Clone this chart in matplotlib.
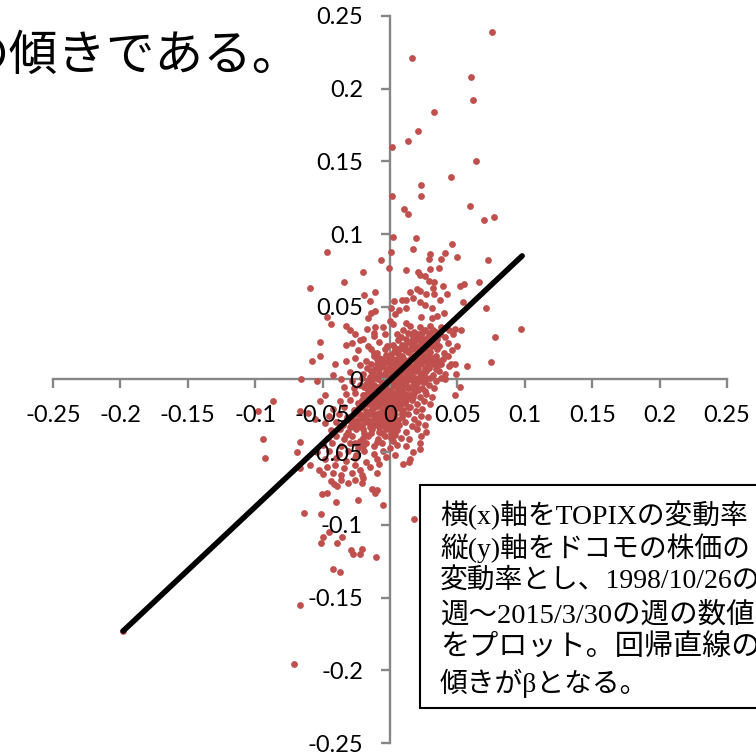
import matplotlib
matplotlib.use("Agg")
import matplotlib.pyplot as plt
import numpy as np
from matplotlib.patches import Rectangle

# Outlying points.
outer_points = [
    (0.0757, 0.239), (0.0166, 0.221), (0.0603, 0.208), (0.0618, 0.192), (0.0329, 0.184),
    (0.0211, 0.171), (0.0132, 0.164), (0.0015, 0.160), (0.0635, 0.150), (0.0450, 0.139),
    (0.0227, 0.134), (0.0230, 0.126), (0.0015, 0.126), (0.0103, 0.117), (0.0134, 0.114),
    (0.0590, 0.119), (0.0700, 0.110), (0.0770, 0.112), (0.0025, 0.098), (0.0190, 0.097),
    (0.0170, 0.090), (-0.0470, 0.088), (0.0010, 0.088), (0.0460, 0.093), (0.0300, 0.086),
    (0.0290, 0.083), (0.0410, 0.087), (0.0380, 0.083), (0.0500, 0.084), (0.0730, 0.082),
    (-0.0070, 0.082), (-0.0010, 0.077), (-0.0200, 0.074), (0.0120, 0.075), (0.0210, 0.074),
    (0.0220, 0.072), (0.0260, 0.071), (0.0300, 0.076), (0.0360, 0.077), (0.0290, 0.068),
    (0.0330, 0.067), (-0.0340, 0.067), (-0.0590, 0.063), (0.0390, 0.064), (0.0550, 0.066),
    (0.0520, 0.064), (0.0660, 0.067), (0.0200, 0.062), (0.0220, 0.061), (0.0150, 0.060),
    (0.0320, 0.063), (0.0270, 0.059), (0.0330, 0.059), (0.0420, 0.059), (-0.0190, 0.058),
    (-0.0110, 0.060), (0.0370, 0.055), (0.0030, 0.054), (0.0090, 0.055), (0.0120, 0.055),
    (0.0170, 0.056), (-0.0150, 0.054), (0.0540, 0.053), (0.0220, 0.053), (0.0260, 0.051),
    (0.0310, 0.049), (0.0710, 0.049), (-0.0110, 0.047), (-0.0140, 0.046), (0.0005, 0.049),
    (0.0070, 0.048), (0.0120, 0.049), (0.0040, 0.045), (0.0400, 0.046), (0.0350, 0.044),
    (0.0310, 0.042), (0.0230, 0.043), (-0.0470, 0.043), (-0.0160, 0.042), (-0.0440, 0.038),
    (0.0000, 0.040), (0.0020, 0.038), (0.0120, 0.039), (-0.0330, 0.037), (-0.0110, 0.036),
    (-0.0170, 0.035), (-0.0300, 0.034), (0.0970, 0.035), (0.0530, 0.034), (0.0480, 0.035),
    (0.0780, 0.029), (0.0750, 0.012), (-0.0520, 0.026), (-0.0260, 0.031), (-0.0040, 0.031),
    (-0.0120, 0.032), (-0.0520, 0.016), (-0.0580, 0.013), (-0.0410, 0.011), (-0.0330, 0.024),
    (-0.0220, 0.027), (-0.0330, 0.013), (0.0570, 0.009), (0.0450, 0.011), (0.0480, 0.011),
    (0.0490, 0.004), (-0.0660, 0.000), (-0.0540, -0.001), (-0.0420, 0.003), (0.0520, -0.005),
    (0.0480, -0.011), (0.0410, 0.000), (-0.0870, -0.015), (-0.0980, -0.022), (-0.0940, -0.041),
    (-0.0930, -0.054), (-0.0670, -0.043), (-0.0690, -0.050), (-0.0520, -0.015), (-0.0480, -0.011),
    (-0.0670, -0.022), (-0.0610, -0.023), (-0.0560, -0.027), (-0.0590, -0.059), (-0.0530, -0.062),
    (-0.0670, -0.061), (-0.0640, -0.092), (-0.0510, -0.0925), (0.0180, -0.096), (-0.0455, -0.105),
    (-0.0500, -0.108), (-0.0510, -0.1125), (-0.0356, -0.1085), (-0.0390, -0.1127), (-0.0290, -0.117),
    (-0.0274, -0.120), (-0.0210, -0.1165), (-0.0220, -0.120), (-0.0104, -0.122), (-0.0420, -0.130),
    (-0.0370, -0.1325), (-0.0670, -0.155), (-0.0715, -0.196), (-0.0504, -0.079), (-0.0467, -0.078),
    (-0.0400, -0.0845), (-0.0237, -0.083), (-0.0050, -0.0865), (-0.0415, -0.072), (-0.0390, -0.073),
    (-0.0210, -0.071), (-0.0134, -0.075), (-0.0098, -0.076), (-0.0110, -0.078), (-0.1980, -0.173),
]

# The middle of the cloud overlaps too much to separate, so these follow its shape.
dense_points = [
    (-0.005, 0.036), (0.010, 0.034), (0.015, 0.037), (0.018, 0.033), (0.022, 0.036), (0.026, 0.034),
    (0.030, 0.037), (0.034, 0.033), (0.038, 0.036), (0.044, 0.034), (-0.012, 0.030), (-0.020, 0.028),
    (0.005, 0.031), (0.008, 0.029), (0.013, 0.032), (0.017, 0.029), (0.021, 0.031), (0.025, 0.028),
    (0.029, 0.032), (0.033, 0.029), (0.037, 0.031), (0.041, 0.029), (0.047, 0.031), (-0.028, 0.025),
    (-0.016, 0.023), (-0.008, 0.026), (0.002, 0.024), (0.006, 0.027), (0.011, 0.024), (0.015, 0.026),
    (0.019, 0.023), (0.023, 0.026), (0.028, 0.024), (0.032, 0.027), (0.036, 0.023), (0.043, 0.025),
    (0.050, 0.023), (-0.024, 0.020), (-0.014, 0.021), (-0.010, 0.018), (-0.004, 0.021), (0.003, 0.019),
    (0.008, 0.022), (0.013, 0.019), (0.017, 0.021), (0.021, 0.018), (0.027, 0.021), (0.030, 0.019),
    (0.035, 0.021), (0.040, 0.018), (0.046, 0.020), (-0.026, 0.015), (-0.018, 0.013), (-0.012, 0.016),
    (-0.006, 0.014), (0.000, 0.017), (0.005, 0.014), (0.009, 0.016), (0.012, 0.013), (0.016, 0.016),
    (0.020, 0.014), (0.025, 0.016), (0.029, 0.013), (0.034, 0.016), (0.039, 0.014), (0.043, 0.016),
    (-0.022, 0.010), (-0.017, 0.008), (-0.010, 0.011), (-0.005, 0.009), (-0.001, 0.012), (0.003, 0.009),
    (0.006, 0.011), (0.010, 0.008), (0.014, 0.011), (0.018, 0.009), (0.022, 0.011), (0.026, 0.008),
    (0.031, 0.011), (0.035, 0.009), (0.038, 0.011), (0.044, 0.009), (-0.030, 0.005), (-0.020, 0.004),
    (-0.014, 0.006), (-0.008, 0.004), (-0.003, 0.006), (0.000, 0.003), (0.004, 0.006), (0.007, 0.004),
    (0.011, 0.006), (0.015, 0.003), (0.019, 0.006), (0.023, 0.004), (0.027, 0.006), (0.032, 0.003),
    (0.036, 0.006), (0.041, 0.004), (-0.036, 0.000), (-0.028, -0.001), (-0.021, 0.001), (-0.016, -0.001),
    (-0.012, 0.001), (-0.006, -0.002), (-0.002, 0.001), (0.002, -0.001), (0.005, 0.001), (0.008, -0.002),
    (0.012, 0.001), (0.017, -0.001), (0.021, 0.001), (0.025, -0.002), (0.030, 0.001), (0.034, -0.001),
    (0.038, 0.001), (-0.034, -0.005), (-0.027, -0.006), (-0.022, -0.004), (-0.017, -0.006), (-0.012, -0.004),
    (-0.008, -0.007), (-0.004, -0.004), (0.000, -0.006), (0.003, -0.004), (0.006, -0.007), (0.010, -0.004),
    (0.014, -0.006), (0.019, -0.004), (0.024, -0.006), (0.029, -0.004), (0.033, -0.006), (-0.033, -0.010),
    (-0.026, -0.009), (-0.020, -0.011), (-0.015, -0.009), (-0.010, -0.012), (-0.005, -0.009), (-0.001, -0.011),
    (0.002, -0.009), (0.005, -0.012), (0.009, -0.009), (0.013, -0.011), (0.018, -0.009), (0.022, -0.012),
    (0.027, -0.010), (0.031, -0.012), (-0.037, -0.015), (-0.030, -0.014), (-0.024, -0.016), (-0.018, -0.014),
    (-0.013, -0.017), (-0.008, -0.014), (-0.003, -0.016), (0.000, -0.014), (0.003, -0.017), (0.007, -0.014),
    (0.011, -0.016), (0.016, -0.014), (0.020, -0.017), (0.025, -0.015), (0.030, -0.017), (-0.042, -0.020),
    (-0.034, -0.019), (-0.027, -0.021), (-0.021, -0.019), (-0.015, -0.022), (-0.011, -0.019), (-0.005, -0.021),
    (-0.001, -0.019), (0.002, -0.022), (0.006, -0.019), (0.010, -0.021), (0.015, -0.019), (0.019, -0.022),
    (0.024, -0.020), (-0.045, -0.025), (-0.038, -0.024), (-0.032, -0.026), (-0.026, -0.024), (-0.020, -0.027),
    (-0.014, -0.024), (-0.009, -0.026), (-0.004, -0.024), (0.000, -0.027), (0.004, -0.024), (0.009, -0.026),
    (0.013, -0.024), (0.018, -0.027), (0.023, -0.025), (0.028, -0.026), (-0.048, -0.030), (-0.040, -0.029),
    (-0.035, -0.031), (-0.029, -0.029), (-0.023, -0.032), (-0.017, -0.029), (-0.012, -0.031), (-0.007, -0.029),
    (-0.002, -0.032), (0.002, -0.029), (0.007, -0.031), (0.011, -0.029), (0.016, -0.032), (0.021, -0.030),
    (0.026, -0.031), (-0.044, -0.035), (-0.037, -0.034), (-0.031, -0.036), (-0.025, -0.034), (-0.019, -0.037),
    (-0.013, -0.034), (-0.008, -0.036), (-0.003, -0.034), (0.001, -0.037), (0.005, -0.035), (0.012, -0.036),
    (0.020, -0.034), (0.027, -0.036), (-0.046, -0.040), (-0.040, -0.039), (-0.034, -0.041), (-0.028, -0.039),
    (-0.022, -0.042), (-0.016, -0.039), (-0.009, -0.041), (-0.004, -0.039), (0.002, -0.042), (0.008, -0.040),
    (0.014, -0.041), (0.023, -0.039), (-0.050, -0.045), (-0.043, -0.044), (-0.036, -0.046), (-0.030, -0.044),
    (-0.024, -0.047), (-0.018, -0.044), (-0.012, -0.046), (-0.006, -0.044), (0.000, -0.047), (0.005, -0.045),
    (0.012, -0.046), (0.022, -0.044), (-0.054, -0.050), (-0.045, -0.049), (-0.038, -0.051), (-0.031, -0.049),
    (-0.025, -0.052), (-0.019, -0.049), (-0.012, -0.051), (-0.005, -0.049), (0.004, -0.052), (0.017, -0.050),
    (0.022, -0.048), (-0.048, -0.055), (-0.040, -0.054), (-0.033, -0.056), (-0.026, -0.054), (-0.018, -0.057),
    (-0.010, -0.055), (-0.003, -0.053), (0.015, -0.055), (-0.047, -0.060), (-0.041, -0.059), (-0.034, -0.061),
    (-0.026, -0.059), (-0.022, -0.062), (-0.015, -0.060), (-0.008, -0.058), (0.010, -0.058), (0.014, -0.057),
    (-0.050, -0.065), (-0.042, -0.064), (-0.036, -0.066), (-0.028, -0.064), (-0.021, -0.066), (-0.010, -0.064),
    (-0.044, -0.070), (-0.036, -0.069), (-0.031, -0.071), (-0.026, -0.069), (-0.020, -0.068),
]

# Extra points for the solid core around the origin and along the upper right arm.
core_points = [
    (-0.012, 0.018), (-0.008, 0.015), (-0.003, 0.017), (0.002, 0.014), (0.006, 0.018), (0.010, 0.015),
    (0.014, 0.020), (0.018, 0.016), (0.022, 0.022), (0.024, 0.018), (0.028, 0.017), (0.031, 0.023),
    (0.012, 0.028), (0.016, 0.031), (0.020, 0.028), (0.024, 0.032), (0.028, 0.029), (0.032, 0.034),
    (0.009, 0.024), (0.004, 0.022), (-0.002, 0.023), (-0.014, 0.011), (-0.011, 0.007), (-0.007, 0.009),
    (-0.003, 0.012), (0.001, 0.006), (0.002, 0.011), (0.005, 0.008), (0.008, 0.012), (0.012, 0.006),
    (0.012, 0.010), (0.016, 0.008), (0.020, 0.009), (0.024, 0.012), (0.028, 0.010), (0.033, 0.012),
    (-0.012, 0.003), (-0.009, 0.000), (-0.005, 0.003), (-0.002, -0.001), (0.001, 0.002), (0.003, -0.002),
    (0.007, 0.002), (0.010, 0.000), (0.013, 0.004), (0.017, 0.002), (0.020, -0.002), (0.023, 0.002),
    (0.027, 0.000), (-0.018, -0.003), (-0.014, -0.002), (-0.010, -0.005), (-0.006, -0.003), (-0.002, -0.005),
    (0.001, -0.007), (0.004, -0.003), (0.008, -0.005), (0.012, -0.003), (0.016, -0.006), (-0.016, -0.007),
    (-0.012, -0.010), (-0.008, -0.009), (-0.003, -0.008), (0.000, -0.011), (0.003, -0.010), (0.007, -0.008),
    (0.011, -0.010), (0.015, -0.011), (-0.019, -0.011), (-0.017, -0.017), (-0.011, -0.015), (-0.006, -0.013),
    (-0.002, -0.014), (0.002, -0.013), (0.005, -0.016), (0.009, -0.013), (-0.023, -0.019), (-0.018, -0.022),
    (-0.013, -0.020), (-0.008, -0.018), (-0.003, -0.019), (0.000, -0.018), (0.004, -0.021), (0.008, -0.017),
    (-0.024, -0.028), (-0.019, -0.025), (-0.016, -0.028), (-0.011, -0.024), (-0.006, -0.026), (-0.002, -0.024),
    (0.002, -0.026), (0.006, -0.028), (-0.027, -0.033), (-0.021, -0.031), (-0.015, -0.033), (-0.010, -0.030),
    (-0.005, -0.032), (0.000, -0.031), (0.004, -0.033), (-0.020, -0.040), (-0.014, -0.037), (-0.006, -0.037),
    (0.001, -0.040), (0.004, -0.038), (-0.033, -0.038), (-0.026, -0.044), (-0.020, -0.046), (-0.010, -0.043),
    (-0.010, 0.014), (-0.006, 0.011), (-0.001, 0.015), (0.003, 0.013), (0.007, 0.015), (0.011, 0.012),
    (0.015, 0.014), (0.019, 0.012), (0.023, 0.014), (0.027, 0.013), (0.031, 0.015), (0.036, 0.013),
    (0.007, 0.021), (0.011, 0.020), (0.016, 0.023), (0.020, 0.020), (0.025, 0.023), (0.029, 0.026),
    (0.034, 0.025), (0.018, 0.026), (0.022, 0.029), (0.026, 0.026), (0.030, 0.030), (0.035, 0.028),
    (-0.008, 0.007), (-0.004, 0.004), (-0.001, 0.008), (0.002, 0.004), (0.005, 0.005), (0.009, 0.006),
    (0.013, 0.008), (0.017, 0.006), (0.021, 0.007), (0.025, 0.005), (0.029, 0.008), (0.034, 0.007),
    (-0.015, 0.002), (-0.010, 0.002), (-0.007, -0.001), (-0.004, 0.001), (0.000, 0.000), (0.004, 0.001),
    (0.006, -0.001), (0.009, 0.002), (0.014, 0.000), (0.018, 0.001), (0.022, -0.001), (0.026, 0.002),
    (-0.019, -0.005), (-0.015, -0.005), (-0.011, -0.007), (-0.007, -0.005), (-0.003, -0.003), (0.001, -0.004),
    (0.005, -0.005), (0.009, -0.007), (0.013, -0.006), (0.017, -0.004), (0.021, -0.007), (0.026, -0.008),
    (-0.021, -0.014), (-0.016, -0.012), (-0.012, -0.013), (-0.008, -0.011), (-0.004, -0.012), (0.000, -0.009),
    (0.004, -0.012), (0.008, -0.011), (0.012, -0.014), (0.017, -0.012), (-0.025, -0.021), (-0.020, -0.017),
    (-0.015, -0.017), (-0.010, -0.017), (-0.006, -0.016), (-0.002, -0.017), (0.001, -0.021), (0.005, -0.019),
    (0.009, -0.022), (0.013, -0.019), (-0.028, -0.027), (-0.022, -0.024), (-0.017, -0.024), (-0.012, -0.027),
    (-0.008, -0.023), (-0.003, -0.028), (0.001, -0.024), (0.005, -0.029), (0.009, -0.024), (-0.030, -0.033),
    (-0.026, -0.030), (-0.020, -0.034), (-0.014, -0.030), (-0.008, -0.033), (-0.003, -0.030), (0.002, -0.035),
]

topix_returns = [p[0] for p in outer_points + dense_points + core_points]
docomo_returns = [p[1] for p in outer_points + dense_points + core_points]

# Regression line ends
line_x = [-0.198, 0.098]
line_y = [-0.173, 0.085]

tick_values = [-0.25, -0.2, -0.15, -0.1, -0.05, 0, 0.05, 0.1, 0.15, 0.2, 0.25]
tick_labels = ["-0.25", "-0.2", "-0.15", "-0.1", "-0.05", "0", "0.05", "0.1", "0.15", "0.2", "0.25"]

heading = "の傾きである。"
note_lines = [
    "横(x)軸をTOPIXの変動率",
    "縦(y)軸をドコモの株価の",
    "変動率とし、1998/10/26の",
    "週～2015/3/30の週の数値",
    "をプロット。回帰直線の",
    "傾きがβとなる。",
]
note_rows = [515, 548, 581, 615, 648, 683]
note_sizes = [20, 20, 20, 20.5, 21, 20]

W, H = 756, 752
serif_jp = ["Liberation Serif", "Noto Sans CJK JP"]
gray = "#868686"


def fx(px):
    return px / W


def fy(py):
    return 1 - py / H


fig = plt.figure(figsize=(W / 100, H / 100), dpi=100)
ax = fig.add_axes([fx(53), fy(743), (727 - 53) / W, (743 - 16) / H])
ax.set_xlim(-0.25, 0.25)
ax.set_ylim(-0.25, 0.25)
ax.patch.set_visible(False)

for side in ["top", "right"]:
    ax.spines[side].set_visible(False)
for side in ["left", "bottom"]:
    ax.spines[side].set_position("zero")
    ax.spines[side].set_color(gray)
    ax.spines[side].set_linewidth(1.7)
    ax.spines[side].set_zorder(1)

ax.set_xticks(tick_values, tick_labels)
ax.set_yticks(tick_values, tick_labels)
ax.tick_params(axis="both", length=6.5, width=1.7, color=gray, labelsize=17, labelcolor="black")
ax.tick_params(axis="x", pad=12)
ax.tick_params(axis="y", pad=13)
for label in ax.get_xticklabels() + ax.get_yticklabels():
    label.set_family("Lato")
ax.xaxis.set_zorder(3)
ax.yaxis.set_zorder(3)

ax.scatter(topix_returns, docomo_returns, s=24, c="#C0504D", linewidths=0, zorder=2, clip_on=False)
ax.plot(line_x, line_y, color="black", linewidth=4.0, solid_capstyle="round", zorder=4)

ax.add_patch(Rectangle((fx(420), fy(708)), 0.6, (708 - 485) / H, transform=fig.transFigure,
                       facecolor="white", edgecolor="black", linewidth=1.5, zorder=5, clip_on=False))
for row, line, size in zip(note_rows, note_lines, note_sizes):
    ax.text(fx(440), fy(row), line, transform=fig.transFigure, family=serif_jp, fontsize=size,
            va="center", ha="left", color="black", zorder=6)

fig.text(fx(-39), fy(58), heading, family=serif_jp, fontsize=35, va="center", ha="left", color="black")

fig.savefig("out.png", dpi=100)
